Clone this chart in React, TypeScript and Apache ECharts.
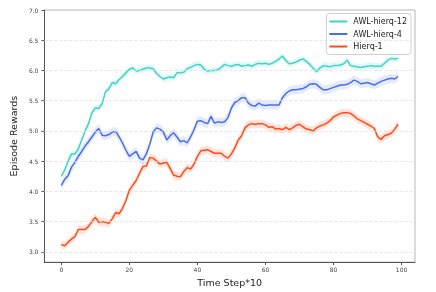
import React, { useEffect, useRef } from "react";
import * as echarts from "echarts";

const STEPS: number[] = Array.from({ length: 100 }, (_, i) => i);

const AWL12: number[] = [
  4.25, 4.35, 4.5, 4.62, 4.62, 4.7, 4.85, 5.0, 5.12, 5.3,
  5.38, 5.37, 5.45, 5.65, 5.7, 5.8, 5.78, 5.85, 5.9, 5.96,
  6.02, 6.04, 5.99, 6.0, 6.02, 6.04, 6.04, 6.03, 5.95, 5.9,
  5.86, 5.88, 5.89, 5.88, 5.96, 5.96, 5.97, 6.03, 6.05, 6.08,
  6.1, 6.09, 6.02, 5.99, 6.0, 6.0, 6.01, 6.05, 6.1, 6.08,
  6.07, 6.09, 6.1, 6.07, 6.08, 6.09, 6.07, 6.1, 6.12, 6.11,
  6.12, 6.1, 6.12, 6.15, 6.19, 6.24, 6.16, 6.11, 6.12, 6.14,
  6.17, 6.19, 6.15, 6.1, 6.04, 5.98, 6.04, 6.08, 6.07, 6.06,
  6.08, 6.08, 6.09, 6.11, 6.17, 6.08, 6.07, 6.06, 6.05, 6.06,
  6.07, 6.08, 6.07, 6.07, 6.07, 6.12, 6.17, 6.2, 6.19, 6.2,
];

const AWL4: number[] = [
  4.1, 4.2, 4.26, 4.4, 4.48, 4.58, 4.66, 4.75, 4.82, 4.9,
  4.98, 5.04, 4.93, 4.92, 4.94, 4.98, 4.99, 4.9, 4.8, 4.68,
  4.58, 4.62, 4.66, 4.55, 4.52, 4.62, 4.78, 4.98, 5.05, 5.03,
  4.98, 4.85, 4.92, 4.97, 4.9, 4.82, 4.84, 4.8, 4.9, 5.02,
  5.16, 5.17, 5.14, 5.12, 5.24, 5.13, 5.15, 5.14, 5.15, 5.22,
  5.38, 5.47, 5.5, 5.55, 5.55, 5.46, 5.42, 5.41, 5.46, 5.43,
  5.42, 5.43, 5.43, 5.43, 5.43, 5.55, 5.62, 5.66, 5.68, 5.68,
  5.69, 5.7, 5.73, 5.77, 5.78, 5.77, 5.72, 5.68, 5.68, 5.7,
  5.72, 5.74, 5.76, 5.76, 5.77, 5.8, 5.84, 5.82, 5.78, 5.79,
  5.8, 5.78, 5.76, 5.79, 5.82, 5.84, 5.86, 5.87, 5.86, 5.9,
];

const HIERQ1: number[] = [
  3.12, 3.1, 3.16, 3.21, 3.25, 3.37, 3.37, 3.37, 3.42, 3.5,
  3.57, 3.49, 3.5, 3.49, 3.47, 3.55, 3.65, 3.63, 3.72, 3.85,
  4.02, 4.1, 4.18, 4.3, 4.41, 4.42, 4.56, 4.55, 4.5, 4.45,
  4.47, 4.48, 4.38, 4.27, 4.25, 4.24, 4.33, 4.39, 4.37, 4.45,
  4.58, 4.67, 4.68, 4.69, 4.66, 4.63, 4.63, 4.63, 4.58, 4.55,
  4.62, 4.72, 4.85, 4.92, 5.05, 5.1, 5.12, 5.11, 5.12, 5.12,
  5.1, 5.06, 5.07, 5.03, 5.04, 5.02, 5.06, 5.02, 5.05, 5.09,
  5.11, 5.07, 5.03, 5.02, 5.0, 5.05, 5.08, 5.1, 5.13, 5.17,
  5.23, 5.26, 5.29, 5.3, 5.3, 5.29, 5.25, 5.2, 5.17, 5.14,
  5.11, 5.08, 5.04, 4.9, 4.86, 4.92, 4.94, 4.96, 5.03, 5.11,
];

const SERIES_NAMES = ["AWL-hierq-12", "AWL-hierq-4", "Hierq-1"];
const SPREADS = [0.055, 0.075, 0.07];
const X_TICKS = [0, 20, 40, 60, 80, 100];
const Y_TICKS = [3.0, 3.5, 4.0, 4.5, 5.0, 5.5, 6.0, 6.5, 7.0];

const COLORS = ["#3fd3c9", "#4a6fe3", "#ff4d1a"];
const BAND_COLORS = ["rgba(63,211,201,0.15)", "rgba(74,111,227,0.15)", "rgba(255,77,26,0.15)"];

export default function App() {
  const ref = useRef<HTMLDivElement>(null);
  useEffect(() => {
    if (!ref.current) return;
    const chart = echarts.init(ref.current, undefined, { renderer: "svg" });
    const all = [AWL12, AWL4, HIERQ1];
    const series: any[] = [];
    all.forEach((vals, k) => {
      const sp = SPREADS[k];
      const band: any = {
        name: "band" + k,
        type: "custom",
        silent: true,
        z: 1,
        clip: true,
        data: STEPS.map((x, i) => [x, vals[i] - sp, vals[i] + sp]),
        renderItem: (params: any, api: any) => {
          if (params.dataIndex !== 0) return null;
          const n = params.dataInsideLength;
          const upper: number[][] = [];
          const lower: number[][] = [];
          for (let j = 0; j < n; j++) {
            const x = api.value(0, j);
            lower.push(api.coord([x, api.value(1, j)]));
            upper.push(api.coord([x, api.value(2, j)]));
          }
          return {
            type: "polygon",
            shape: { points: lower.concat(upper.reverse()) },
            style: { fill: BAND_COLORS[k], stroke: "none" },
          };
        },
      };
      if (k === 0) {
        band.markLine = {
          silent: true,
          symbol: "none",
          label: { show: false },
          lineStyle: { type: [3, 2], color: "#dedede", width: 0.8 },
          data: Y_TICKS.filter((v) => v < 7).map((v) => ({ yAxis: v })),
        };
      }
      series.push(band);
    });
    all.forEach((vals, k) => {
      series.push({
        name: SERIES_NAMES[k],
        type: "line",
        data: STEPS.map((x, i) => [x, vals[i]]),
        symbol: "none",
        lineStyle: { color: COLORS[k], width: 1.5 },
        itemStyle: { color: COLORS[k] },
        z: 3,
      });
    });

    chart.setOption({
      animation: false,
      textStyle: { fontFamily: "DejaVu Sans" },
      grid: {
        left: 33.5,
        right: 21,
        top: 10,
        bottom: 25.3,
        show: true,
        borderColor: "#b8b8b8",
        borderWidth: 1,
        backgroundColor: "transparent",
      },
      legend: {
        data: SERIES_NAMES,
        right: 25,
        top: 13.5,
        orient: "vertical",
        itemWidth: 18,
        itemHeight: 2,
        itemGap: 4.5,
        icon: "rect",
        padding: [4, 4, 4, 3],
        borderColor: "#d0d0d0",
        borderWidth: 1,
        borderRadius: 3,
        backgroundColor: "rgba(255,255,255,0.85)",
        textStyle: { fontSize: 8, color: "#222", fontFamily: "DejaVu Sans", padding: [0, 0, 0, 1] },
      },
      xAxis: {
        type: "value",
        min: -4.95,
        max: 103.95,
        name: "Time Step*10",
        nameLocation: "middle",
        nameGap: 11,
        nameTextStyle: { fontSize: 9.5, color: "#222" },
        axisLine: { show: true, onZero: false, lineStyle: { color: "#555", width: 1 } },
        axisTick: { show: true, customValues: X_TICKS, length: 3, lineStyle: { color: "#555" } },
        axisLabel: { customValues: X_TICKS, fontSize: 6, color: "#444", margin: 4 },
        splitLine: { show: false },
      },
      yAxis: {
        type: "value",
        min: 2.83,
        max: 7.0,
        name: "Episode Rewards",
        nameLocation: "middle",
        nameGap: 15,
        nameTextStyle: { fontSize: 9.5, color: "#222" },
        axisLine: { show: true, onZero: false, lineStyle: { color: "#555", width: 1 } },
        axisTick: { show: true, customValues: Y_TICKS, length: 3, lineStyle: { color: "#555" } },
        axisLabel: {
          customValues: Y_TICKS,
          fontSize: 6,
          color: "#444",
          margin: 6,
          formatter: (v: number) => v.toFixed(1),
        },
        splitLine: { show: false },
      },
      series,
    });
    return () => chart.dispose();
  }, []);
  return <div ref={ref} style={{ position: "fixed", left: 0, top: 0, width: 436, height: 292 }} />;
}
